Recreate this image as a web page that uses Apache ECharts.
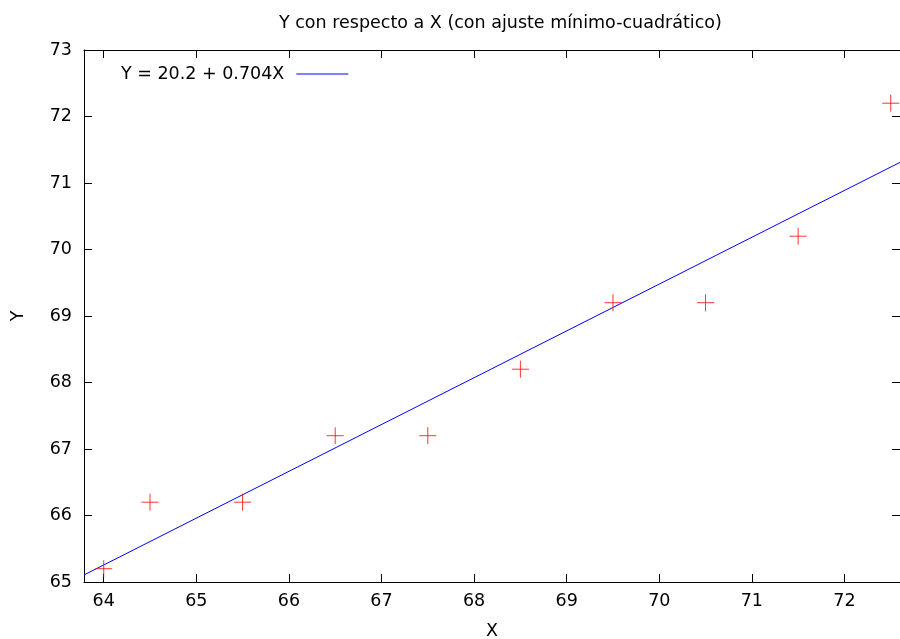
<!DOCTYPE html>
<html>
<head>
<meta charset="utf-8">
<script src="https://cdn.jsdelivr.net/npm/echarts@6/dist/echarts.min.js"></script>
<style>
  html, body { margin: 0; padding: 0; background: #fff; }
  #chart { width: 900px; height: 639px; }
</style>
</head>
<body>
<div id="chart"></div>
<script>
// observed data
var xValues = [64, 64.5, 65.5, 66.5, 67.5, 68.5, 69.5, 70.5, 71.5, 72.5];
var yValues = [65.2, 66.2, 66.2, 67.2, 67.2, 68.2, 69.2, 69.2, 70.2, 72.2];

// least-squares fit  Y = a + bX
var fitIntercept = 20.2;
var fitSlope = 0.704;
var fitName = 'Y = 20.2 + 0.704X';

// axis ranges
var xRange = [63.787, 72.6];
var yRange = [65, 73];

var points = xValues.map(function (x, i) { return [x, yValues[i]]; });
var fitLine = xRange.map(function (x) { return [x, fitIntercept + fitSlope * x]; });

var font = 'DejaVu Sans';
var fs = 17.5;
var chart = echarts.init(document.getElementById('chart'));

var tickStyle = { show: true, inside: true, length: 8, lineStyle: { color: '#000', width: 1 } };

var option = {
    animation: false,
    textStyle: { fontFamily: font },
    title: {
        text: 'Y con respecto a X (con ajuste mínimo-cuadrático)',
        left: 274,
        top: 9,
        textStyle: { fontFamily: font, fontSize: fs, fontWeight: 'normal', color: '#000' }
    },
    legend: {
        data: [fitName],
        left: 116,
        top: 60,
        align: 'right',
        icon: 'rect',
        itemWidth: 52,
        itemHeight: 1,
        textStyle: { fontFamily: font, fontSize: fs, color: '#000', padding: [0, 7, 0, 0] }
    },
    grid: { left: 84, right: 0, top: 50, bottom: 57, outerBoundsMode: 'none' },
    xAxis: [
        {
            type: 'value',
            min: xRange[0],
            max: xRange[1],
            minInterval: 1,
            maxInterval: 1,
            name: 'X',
            nameLocation: 'middle',
            nameGap: 40,
            nameTextStyle: { fontFamily: font, fontSize: fs, color: '#000' },
            axisLine: { show: true, lineStyle: { color: '#000', width: 1 } },
            axisTick: tickStyle,
            axisLabel: { fontFamily: font, fontSize: fs, color: '#000', margin: 10, showMinLabel: false, showMaxLabel: false },
            splitLine: { show: false }
        },
        {
            type: 'value',
            position: 'top',
            min: xRange[0],
            max: xRange[1],
            minInterval: 1,
            maxInterval: 1,
            axisLine: { show: true, lineStyle: { color: '#000', width: 1 } },
            axisTick: tickStyle,
            axisLabel: { show: false },
            splitLine: { show: false }
        }
    ],
    yAxis: [
        {
            type: 'value',
            min: yRange[0],
            max: yRange[1],
            interval: 1,
            name: 'Y',
            nameLocation: 'middle',
            nameGap: 57,
            nameRotate: 90,
            nameTextStyle: { fontFamily: font, fontSize: fs, color: '#000' },
            axisLine: { show: true, lineStyle: { color: '#000', width: 1 } },
            axisTick: tickStyle,
            axisLabel: { fontFamily: font, fontSize: fs, color: '#000', margin: 12 },
            splitLine: { show: false }
        },
        {
            type: 'value',
            position: 'right',
            min: yRange[0],
            max: yRange[1],
            interval: 1,
            axisLine: { show: false },
            axisTick: tickStyle,
            axisLabel: { show: false },
            splitLine: { show: false }
        }
    ],
    series: [
        {
            name: 'datos',
            type: 'scatter',
            data: points,
            symbol: 'path://M8,0L8,16M0,8L16,8',
            symbolSize: 17,
            itemStyle: { color: 'none', borderColor: '#ff0000', borderWidth: 1 },
            z: 3
        },
        {
            name: fitName,
            type: 'line',
            data: fitLine,
            symbol: 'none',
            lineStyle: { color: '#0000ff', width: 1 },
            itemStyle: { color: '#0000ff' },
            z: 2
        }
    ]
};
chart.setOption(option);
</script>
</body>
</html>
